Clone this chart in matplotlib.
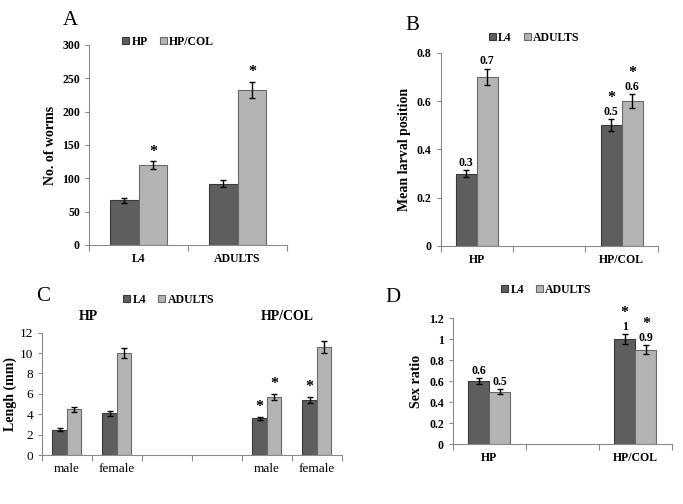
import numpy as np
import matplotlib.pyplot as plt

plt.rcParams["font.family"] = ["Liberation Serif", "DejaVu Serif"]

DARK = "#5e5e5e"
LIGHT = "#b4b4b4"
EDGE = "#3a3a3a"
SPINE = "#8a8a8a"

# ── Data ──────────────────────────────────────────────────────────────────────
a_cats = ["L4", "ADULTS"]
a_hp = [67, 92]
a_hp_err = [4, 5]
a_col = [120, 233]
a_col_err = [6, 12]
a_col_star = [True, True]

b_cats = ["HP", "", "HP/COL"]
b_l4 = [0.3, None, 0.5]
b_l4_err = [0.015, None, 0.025]
b_ad = [0.7, None, 0.6]
b_ad_err = [0.035, None, 0.03]
b_l4_lbl = ["0.3", None, "0.5"]
b_ad_lbl = ["0.7", None, "0.6"]
b_l4_star = [False, None, True]
b_ad_star = [False, None, True]

c_cats = ["male", "female", "", "", "male", "female"]
c_l4 = [2.5, 4.1, None, None, 3.6, 5.4]
c_l4_err = [0.15, 0.25, None, None, 0.15, 0.3]
c_ad = [4.5, 10.0, None, None, 5.7, 10.6]
c_ad_err = [0.25, 0.5, None, None, 0.3, 0.55]
c_l4_star = [False, False, None, None, True, True]
c_ad_star = [False, False, None, None, True, False]
c_groups = ["HP", "HP/COL"]

d_cats = ["HP", "", "HP/COL"]
d_l4 = [0.6, None, 1.0]
d_l4_err = [0.03, None, 0.05]
d_ad = [0.5, None, 0.9]
d_ad_err = [0.025, None, 0.045]
d_l4_lbl = ["0.6", None, "1"]
d_ad_lbl = ["0.5", None, "0.9"]
d_l4_star = [False, None, True]
d_ad_star = [False, None, True]

W = 0.29


def style_axes(ax, cats, bold=True, fs=8.5):
    n = len(cats)
    ax.set_xlim(0, n)
    for s in ["top", "right"]:
        ax.spines[s].set_visible(False)
    for s in ["left", "bottom"]:
        ax.spines[s].set_color(SPINE)
    ax.set_xticks(np.arange(n + 1))
    ax.set_xticklabels([])
    ax.set_xticks(np.arange(n) + 0.5, minor=True)
    ax.set_xticklabels(cats, minor=True, fontsize=fs,
                       fontweight="bold" if bold else "normal")
    ax.tick_params(axis="x", which="major", length=4, color=SPINE)
    ax.tick_params(axis="x", which="minor", length=0, pad=6)
    ax.tick_params(axis="y", length=3, color=SPINE, labelsize=fs)
    for t in ax.get_yticklabels():
        t.set_fontweight("bold" if bold else "normal")


def draw_pair(ax, v1, e1, v2, e2, lab1, lab2):
    idx = [i for i, v in enumerate(v1) if v is not None]
    x = np.array(idx) + 0.5
    ax.bar(x - W / 2, [v1[i] for i in idx], W, color=DARK, edgecolor=EDGE,
           linewidth=0.8, label=lab1, zorder=2)
    ax.bar(x + W / 2, [v2[i] for i in idx], W, color=LIGHT, edgecolor="#6a6a6a",
           linewidth=0.8, label=lab2, zorder=2)
    ax.errorbar(x - W / 2, [v1[i] for i in idx], yerr=[e1[i] for i in idx],
                fmt="none", ecolor="black", elinewidth=1, capsize=2.5, zorder=3)
    ax.errorbar(x + W / 2, [v2[i] for i in idx], yerr=[e2[i] for i in idx],
                fmt="none", ecolor="black", elinewidth=1, capsize=2.5, zorder=3)
    return idx


def annotate(ax, idx, vals, errs, labels, stars, off, dx, step):
    for i in idx:
        top = vals[i] + errs[i] + off
        xx = i + 0.5 + dx
        if labels is not None and labels[i] is not None:
            ax.text(xx, top, labels[i], ha="center", va="bottom",
                    fontsize=8.5, fontweight="bold")
            top += step
        if stars[i]:
            ax.text(xx, top, "*", ha="center", va="bottom",
                    fontsize=11.5, fontweight="bold")


def legend(ax, fig, x, y):
    ax.legend(loc="center", bbox_to_anchor=(x, y), bbox_transform=fig.transFigure,
              ncol=2, frameon=False, handlelength=0.6, handleheight=0.6,
              handletextpad=0.2, columnspacing=1.0,
              prop={"size": 8.5, "weight": "bold"})


fig = plt.figure(figsize=(6.83, 5.04), dpi=100)

# ── A ────────────────────────────────────────────────────────────────────────
ax = fig.add_axes([0.1303, 0.5139, 0.290, 0.397])
idx = draw_pair(ax, a_hp, a_hp_err, a_col, a_col_err, "HP", "HP/COL")
ax.set_ylim(0, 300)
ax.set_yticks(np.arange(0, 301, 50))
style_axes(ax, a_cats)
annotate(ax, idx, a_col, a_col_err, None, a_col_star, 2, W / 2, 0)
ax.set_ylabel("No. of worms", fontsize=10, fontweight="bold")
legend(ax, fig, 0.246, 0.917)
fig.text(0.1025, 0.96, "A", fontsize=15, ha="center", va="center")

# ── B ────────────────────────────────────────────────────────────────────────
ax = fig.add_axes([0.645, 0.512, 0.318, 0.383])
idx = draw_pair(ax, b_l4, b_l4_err, b_ad, b_ad_err, "L4", "ADULTS")
ax.set_ylim(0, 0.8)
ax.set_yticks([0, 0.2, 0.4, 0.6, 0.8])
ax.set_yticklabels(["0", "0.2", "0.4", "0.6", "0.8"])
style_axes(ax, b_cats)
annotate(ax, idx, b_l4, b_l4_err, b_l4_lbl, b_l4_star, 0.005, -W / 2, 0.05)
annotate(ax, idx, b_ad, b_ad_err, b_ad_lbl, b_ad_star, 0.005, W / 2, 0.05)
ax.set_ylabel("Mean larval position", fontsize=10, fontweight="bold")
legend(ax, fig, 0.782, 0.925)
fig.text(0.603, 0.95, "B", fontsize=15, ha="center", va="center")

# ── C ────────────────────────────────────────────────────────────────────────
ax = fig.add_axes([0.0615, 0.0972, 0.439, 0.2427])
idx = draw_pair(ax, c_l4, c_l4_err, c_ad, c_ad_err, "L4", "ADULTS")
ax.set_ylim(0, 12)
ax.set_yticks(np.arange(0, 13, 2))
style_axes(ax, c_cats, bold=False, fs=9.5)
annotate(ax, idx, c_l4, c_l4_err, None, c_l4_star, 0.2, -W / 2, 0)
annotate(ax, idx, c_ad, c_ad_err, None, c_ad_star, 0.2, W / 2, 0)
ax.set_ylabel("Lengh (mm)", fontsize=10, fontweight="bold", labelpad=2)
for gx, g in zip([0.92, 4.9], c_groups):
    ax.text(gx, 1.13, g, transform=ax.get_xaxis_transform(), ha="center",
            va="center", fontsize=10, fontweight="bold")
legend(ax, fig, 0.247, 0.405)
fig.text(0.063, 0.411, "C", fontsize=15, ha="center", va="center")

# ── D ────────────────────────────────────────────────────────────────────────
ax = fig.add_axes([0.663, 0.119, 0.3206, 0.25])
idx = draw_pair(ax, d_l4, d_l4_err, d_ad, d_ad_err, "L4", "ADULTS")
ax.set_ylim(0, 1.2)
ax.set_yticks([0, 0.2, 0.4, 0.6, 0.8, 1.0, 1.2])
ax.set_yticklabels(["0", "0.2", "0.4", "0.6", "0.8", "1", "1.2"])
style_axes(ax, d_cats)
annotate(ax, idx, d_l4, d_l4_err, d_l4_lbl, d_l4_star, 0.005, -W / 2, 0.115)
annotate(ax, idx, d_ad, d_ad_err, d_ad_lbl, d_ad_star, 0.005, W / 2, 0.115)
ax.set_ylabel("Sex ratio", fontsize=10, fontweight="bold")
legend(ax, fig, 0.8, 0.425)
fig.text(0.575, 0.409, "D", fontsize=15, ha="center", va="center")

plt.savefig("out.png", dpi=100)
